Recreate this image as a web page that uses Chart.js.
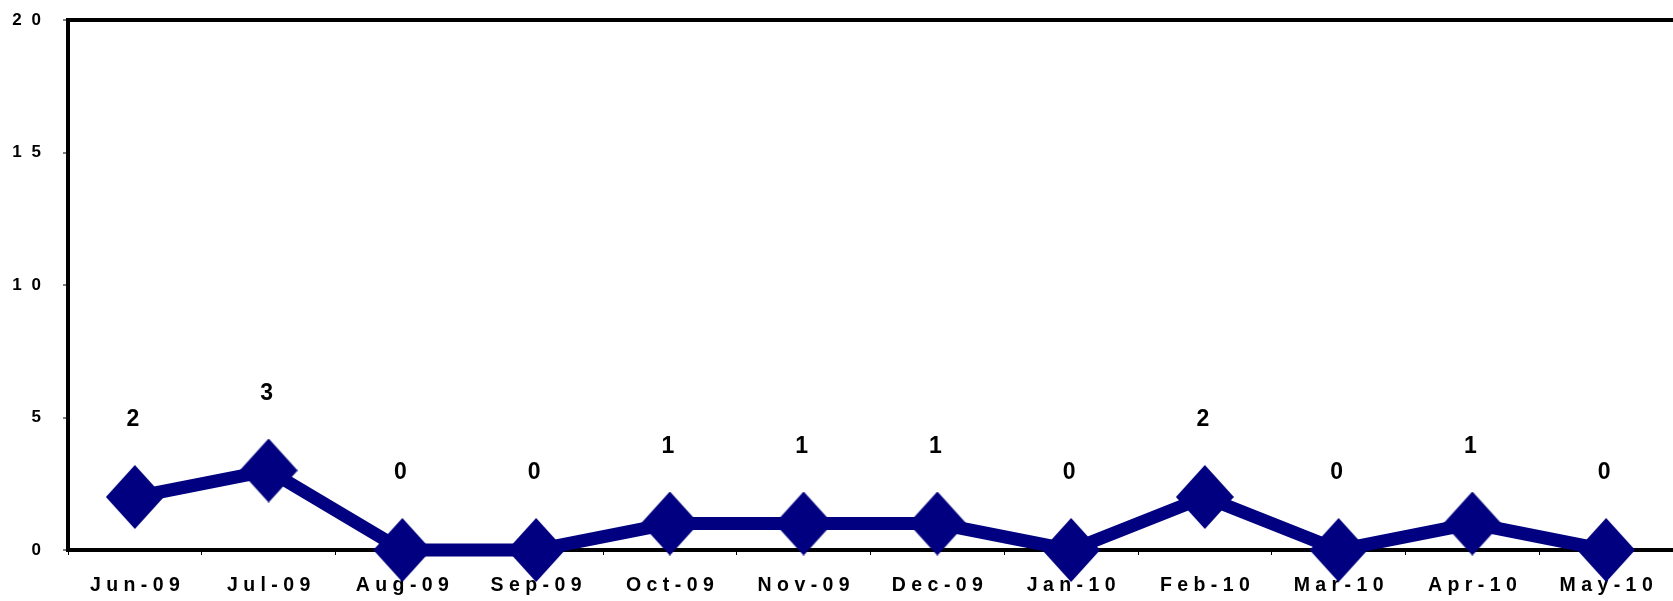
<!DOCTYPE html>
<html>
<head>
<meta charset="utf-8">
<script src="https://cdn.jsdelivr.net/npm/chart.js@4/dist/chart.umd.min.js"></script>
<style>
  html, body { margin: 0; padding: 0; background: #ffffff; }
  #wrap { width: 1673px; height: 601px; }
</style>
</head>
<body>
<div id="wrap"><canvas id="c" width="1673" height="601"></canvas></div>
<script>
// Monthly counts, June 2009 – May 2010
const months = ["Jun-09", "Jul-09", "Aug-09", "Sep-09", "Oct-09", "Nov-09",
                "Dec-09", "Jan-10", "Feb-10", "Mar-10", "Apr-10", "May-10"];
const counts = [2, 3, 0, 0, 1, 1, 1, 0, 2, 0, 1, 0];
const yTicks = [0, 5, 10, 15, 20];

const NAVY = "#000080";
const FONT = "'Liberation Sans', Arial, Helvetica, sans-serif";

// spread characters apart, as in the printed axis lettering
const spread = (s, gap) => String(s).split("").join(gap);

// Slightly tall diamond marker
function diamondMarker(halfW, halfH, color) {
  const c = document.createElement("canvas");
  c.width = halfW * 2;
  c.height = halfH * 2;
  const g = c.getContext("2d");
  g.fillStyle = color;
  g.beginPath();
  g.moveTo(halfW, 0);
  g.lineTo(halfW * 2, halfH);
  g.lineTo(halfW, halfH * 2);
  g.lineTo(0, halfH);
  g.closePath();
  g.fill();
  return c;
}
const marker = diamondMarker(29, 32, NAVY);

// Value labels drawn above each marker
const valueLabels = {
  id: "valueLabels",
  afterDatasetsDraw(chart) {
    const ctx = chart.ctx;
    const meta = chart.getDatasetMeta(0);
    ctx.save();
    ctx.font = "bold 23px " + FONT;
    ctx.fillStyle = "#000000";
    ctx.textAlign = "center";
    ctx.textBaseline = "middle";
    meta.data.forEach((pt, i) => {
      ctx.fillText(String(chart.data.datasets[0].data[i]), pt.x - 2, pt.y - 77);
    });
    ctx.restore();
  }
};

const chart = new Chart(document.getElementById("c"), {
  type: "line",
  data: {
    labels: months,
    datasets: [{
      data: counts,
      borderColor: NAVY,
      backgroundColor: NAVY,
      borderWidth: 13,
      pointStyle: marker,
      pointRadius: 30,
      pointHoverRadius: 30,
      pointBorderWidth: 0,
      pointBackgroundColor: NAVY,
      pointBorderColor: NAVY,
      tension: 0,
      clip: false,
      borderJoinStyle: "miter"
    }]
  },
  plugins: [valueLabels],
  options: {
    responsive: false,
    animation: false,
    events: [],
    layout: { autoPadding: false, padding: { top: 20, left: 0, right: 0, bottom: 0 } },
    plugins: { legend: { display: false }, tooltip: { enabled: false } },
    scales: {
      x: {
        type: "category",
        offset: true,
        grid: {
          offset: true,
          drawOnChartArea: false,
          drawTicks: true,
          tickLength: 5,
          tickWidth: 1,
          tickColor: "#000000"
        },
        border: { display: true, color: "#000000", width: 4 },
        ticks: {
          color: "#000000",
          font: { family: FONT, size: 19.5, weight: "bold" },
          padding: 19,
          maxRotation: 0,
          autoSkip: false,
          callback(v, i) { return spread(months[i], " "); }
        },
        afterFit(scale) {
          scale.height = 51;
          scale.paddingLeft = 0;
          scale.paddingRight = 0;
        }
      },
      y: {
        min: 0,
        max: 20,
        afterBuildTicks(scale) { scale.ticks = yTicks.map(v => ({ value: v })); },
        grid: {
          drawTicks: true,
          tickLength: 5,
          tickWidth: 1,
          tickColor: "#000000",
          lineWidth: 4,
          color(ctx) { return ctx.tick && ctx.tick.value === 20 ? "#000000" : "rgba(0,0,0,0)"; }
        },
        border: { display: true, color: "#000000", width: 4 },
        ticks: {
          color: "#000000",
          font: { family: FONT, size: 17, weight: "bold" },
          padding: 22,
          callback(v) { return spread(v, "\u2002\u200A"); }
        },
        afterFit(scale) {
          scale.width = 68;
          scale.paddingTop = 0;
          scale.paddingBottom = 0;
        }
      }
    }
  }
});
</script>
</body>
</html>
